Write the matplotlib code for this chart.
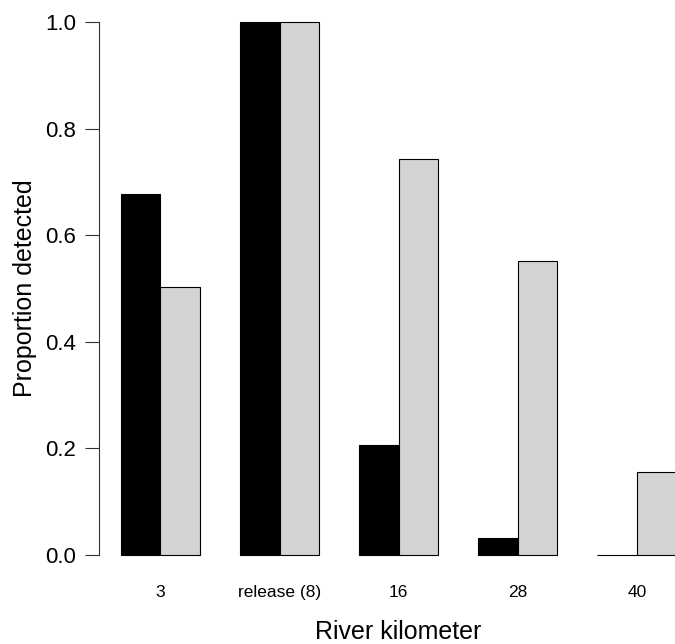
import matplotlib
matplotlib.use("Agg")
import matplotlib.pyplot as plt
import numpy as np

plt.rcParams['font.family'] = ['Liberation Sans', 'DejaVu Sans']

categories = ["3", "release (8)", "16", "28", "40"]
series_black = [0.677, 1.0, 0.2065, 0.031, 0.0]
series_grey = [0.502, 1.0, 0.743, 0.552, 0.1546]
yticks = [0.0, 0.2, 0.4, 0.6, 0.8, 1.0]

W, H = 675, 644
fig = plt.figure(figsize=(W / 100, H / 100), dpi=100)
# axes (R-like plot region), extends past right figure edge
left_px, right_px = 98.5, 698.8
top_px, bottom_px = 0.7, 576.0
ax = fig.add_axes([left_px / W, 1 - bottom_px / H,
                   (right_px - left_px) / W, (bottom_px - top_px) / H])

n = len(categories)
starts = 1 + 3 * np.arange(n)
ax.bar(starts + 0.5, series_black, width=1.0, color="black",
       edgecolor="black", linewidth=0.8, clip_on=False)
ax.bar(starts + 1.5, series_grey, width=1.0, color="#d3d3d3",
       edgecolor="black", linewidth=0.8, clip_on=False)

ax.set_xlim(0.44, 15.56)
ax.set_ylim(-0.04, 1.04)

for s in ["top", "right", "bottom"]:
    ax.spines[s].set_visible(False)
ax.spines["left"].set_bounds(0, 1)
ax.spines["left"].set_color("#333333")
ax.spines["left"].set_linewidth(0.8)

ax.set_yticks(yticks)
ax.set_yticklabels([f"{v:.1f}" for v in yticks], fontsize=16)
ax.tick_params(axis="y", direction="out", length=10, width=0.8,
               color="#333333", pad=6)

ax.set_xticks(starts + 1.0)
ax.set_xticklabels(categories, fontsize=12.5)
ax.tick_params(axis="x", length=0, pad=6.5)

ax.set_ylabel("Proportion detected", fontsize=18, labelpad=6)
fig.text(398 / W, 1 - 639 / H, "River kilometer", fontsize=18,
         ha="center", va="baseline")

fig.savefig("out.png", dpi=100)
